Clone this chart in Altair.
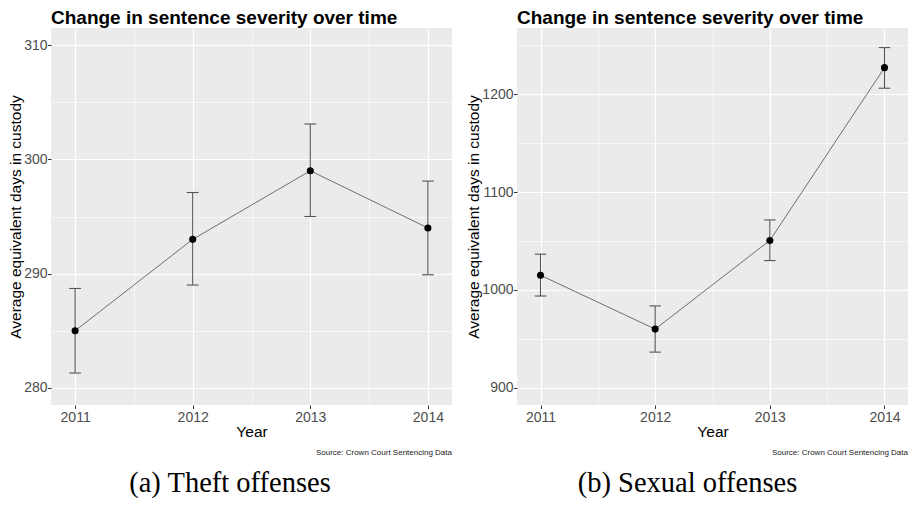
import altair as alt
import pandas as pd

years = [2011, 2012, 2013, 2014]

theft_mean = [285.0, 293.0, 299.0, 294.0]
theft_lo = [281.3, 289.0, 295.0, 289.9]
theft_hi = [288.7, 297.1, 303.1, 298.1]

sex_mean = [1015.0, 960.0, 1050.5, 1227.0]
sex_lo = [993.8, 936.5, 1030.0, 1206.0]
sex_hi = [1036.5, 983.7, 1071.5, 1247.5]

title_text = "Change in sentence severity over time"
y_title = "Average equivalent days in custody"
x_title = "Year"
source_text = "Source: Crown Court Sentencing Data"
captions = ["(a) Theft offenses", "(b) Sexual offenses"]

x_ticks = [2011, 2011.5, 2012, 2012.5, 2013, 2013.5, 2014]
theft_ticks = [280, 285, 290, 295, 300, 305, 310]
sex_ticks = [900, 950, 1000, 1050, 1100, 1150, 1200, 1250]

FONT = "Liberation Sans"
CAP_HALF = 0.05


def x_axis():
    return alt.Axis(
        values=x_ticks,
        title=x_title,
        labelExpr="datum.value % 1 === 0 ? format(datum.value, 'd') : ''",
        labelOverlap=False,
        labelFlush=False,
        gridWidth={"condition": {"test": "datum.value % 1 !== 0", "value": 0.6}, "value": 1.2},
        tickColor={"condition": {"test": "datum.value % 1 !== 0", "value": "transparent"}, "value": "#333333"},
    )


def y_axis(ticks, step):
    return alt.Axis(
        values=ticks,
        title=y_title,
        labelExpr=f"datum.value % {step} === 0 ? format(datum.value, 'd') : ''",
        labelOverlap=False,
        labelFlush=False,
        gridWidth={"condition": {"test": f"datum.value % {step} !== 0", "value": 0.6}, "value": 1.2},
        tickColor={"condition": {"test": f"datum.value % {step} !== 0", "value": "transparent"}, "value": "#333333"},
    )


def panel(mean, lo, hi, ydom, ticks, step, width, height, caption, cap_x):
    df = pd.DataFrame({"year": years, "mean": mean, "lo": lo, "hi": hi})
    base = alt.Chart(df).transform_calculate(
        xa=f"datum.year - {CAP_HALF}", xb=f"datum.year + {CAP_HALF}"
    )
    xs = alt.Scale(domain=[2010.795, 2014.205], nice=False, zero=False)
    ys = alt.Scale(domain=ydom, nice=False, zero=False)
    X = alt.X("year:Q", scale=xs, axis=x_axis())
    Y = alt.Y("mean:Q", scale=ys, axis=y_axis(ticks, step))

    bars = base.mark_rule(color="#555555", strokeWidth=1.1).encode(
        x=X, y=alt.Y("lo:Q", scale=ys), y2="hi:Q"
    )
    cap_hi = base.mark_rule(color="#555555", strokeWidth=1.1).encode(
        x=alt.X("xa:Q", scale=xs), x2="xb:Q", y=alt.Y("hi:Q", scale=ys)
    )
    cap_lo = base.mark_rule(color="#555555", strokeWidth=1.1).encode(
        x=alt.X("xa:Q", scale=xs), x2="xb:Q", y=alt.Y("lo:Q", scale=ys)
    )
    line = base.mark_line(color="#6e6e6e", strokeWidth=1.0).encode(x=X, y=Y)
    pts = base.mark_circle(color="black", opacity=1, size=50).encode(x=X, y=Y)

    src = alt.Chart(pd.DataFrame({"t": [source_text]})).mark_text(
        align="right", baseline="middle", fontSize=8, font=FONT, color="#222222"
    ).encode(x=alt.value(width), y=alt.value(height + 47.5), text="t:N")

    cap = alt.Chart(pd.DataFrame({"t": [caption]})).mark_text(
        align="center", baseline="alphabetic", fontSize=28.5, font="Liberation Serif", color="black"
    ).encode(x=alt.value(cap_x), y=alt.value(height + 87), text="t:N")

    return alt.layer(bars, cap_hi, cap_lo, line, pts, src, cap).properties(
        width=width, height=height, title=title_text
    )


left = panel(theft_mean, theft_lo, theft_hi, [278.5, 311.5], theft_ticks, 10,
             401, 377, captions[0], 179)
right = panel(sex_mean, sex_lo, sex_hi, [882.5, 1267.5], sex_ticks, 100,
              391, 377, captions[1], 170.5)

chart = alt.hconcat(left, right, spacing=14).properties(
    padding={"left": 0, "top": 0, "right": 0, "bottom": 0}
).configure_view(
    fill="#EBEBEB", stroke=None
).configure_axis(
    domain=False,
    gridColor="white",
    tickSize=3.5,
    labelFont=FONT,
    labelFontSize=14,
    labelColor="#4D4D4D",
    titleFont=FONT,
    titleFontSize=15.5,
    titleFontWeight="normal",
    titleColor="black",
).configure_axisX(
    labelPadding=2,
    titlePadding=0,
).configure_axisY(
    labelPadding=0.5,
    titlePadding=0,
).configure_title(
    font=FONT,
    fontSize=19,
    fontWeight="bold",
    color="black",
    anchor="start",
    frame="group",
    offset=0.5,
)

chart.save("out.html", embed_options={"renderer": "svg", "actions": False})
